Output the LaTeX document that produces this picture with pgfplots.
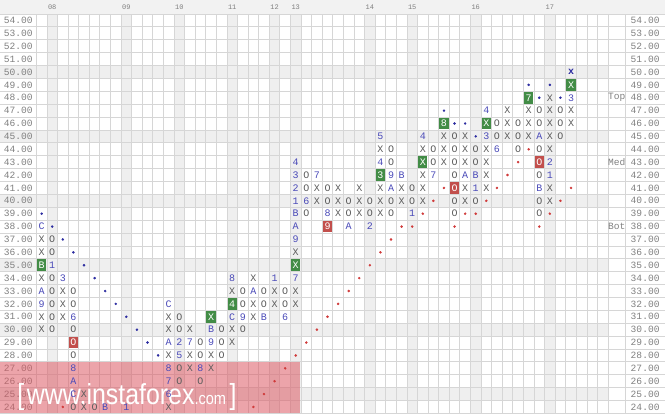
\documentclass[border=0pt]{standalone}
\usepackage{pgfplots}
\pgfplotsset{compat=1.18}
\usepackage{pgfplotstable}
\usepackage{graphicx}
\usepackage{fontspec}
\setmainfont{Liberation Sans}
\newfontfamily\monofont{Liberation Mono}
\definecolor{gridc}{HTML}{D6D6D6}
\definecolor{bandc}{HTML}{EFEFEF}
\definecolor{headc}{HTML}{F2F2F2}
\definecolor{xoc}{HTML}{5C5C5C}
\definecolor{monthc}{HTML}{4A4AB8}
\definecolor{redc}{HTML}{D03A3A}
\definecolor{bluec}{HTML}{2C2CA0}
\definecolor{greenbox}{HTML}{428C46}
\definecolor{redbox}{HTML}{C24F4C}
\definecolor{labelc}{HTML}{808080}
\definecolor{wmc}{HTML}{DC5A64}

% X columns (column index, price)
\pgfplotstableread{
x y
0 37
0 36
0 34
0 31
0 30
2 33
2 32
2 31
4 25
4 24
12 31
12 30
12 28
12 24
14 30
14 28
14 27
16 28
16 27
18 33
18 30
18 29
20 34
20 32
20 31
22 33
22 32
24 33
24 32
24 36
26 41
26 40
28 41
28 40
28 39
30 41
30 40
30 39
32 44
32 41
32 40
32 39
34 41
34 40
36 44
36 42
36 41
36 40
38 45
38 44
38 43
40 45
40 44
40 43
40 41
40 40
42 44
42 43
42 42
42 41
44 47
44 46
44 45
46 47
46 46
46 45
48 48
48 47
48 46
48 45
48 44
48 41
48 40
50 47
50 46
}\xcells

% O columns
\pgfplotstableread{
x y
1 37
1 36
1 34
1 33
1 32
1 31
1 30
3 33
3 32
3 30
3 28
3 24
5 24
13 31
13 30
13 27
13 26
15 29
15 28
15 26
17 30
17 29
17 28
19 33
19 32
19 30
21 33
21 32
23 33
23 32
25 42
25 41
25 39
27 41
27 40
29 40
29 39
31 40
31 39
33 44
33 43
33 40
33 39
35 41
35 40
37 44
37 43
39 45
39 44
39 43
39 42
39 40
39 39
41 44
41 43
41 40
43 46
43 45
45 46
45 45
45 44
47 47
47 46
47 44
47 42
47 40
47 39
49 47
49 46
49 45
}\ocells

% month markers inside the columns
\pgfplotstableread{
x y l
0 38 C
0 33 A
0 32 9
1 35 1
2 34 3
3 31 6
3 27 8
3 26 A
3 25 C
6 24 B
8 24 1
12 32 C
12 29 A
12 27 8
12 26 7
12 25 6
13 29 2
13 28 5
14 29 7
15 27 8
16 30 B
16 29 9
18 34 8
18 31 C
19 31 9
20 33 A
21 31 B
22 34 1
23 31 6
24 34 7
24 37 9
24 38 A
24 39 B
24 40 1
24 41 2
24 42 3
24 43 4
25 40 6
26 42 7
27 39 8
29 38 A
31 38 2
32 43 4
32 45 5
33 42 9
33 41 A
34 42 B
35 39 1
36 45 4
37 42 7
40 42 A
41 42 B
41 41 1
42 45 3
42 47 4
43 44 6
47 45 A
47 41 B
48 42 1
48 43 2
50 48 3
}\months

% buy signals
\pgfplotstableread{
x y l
0 35 B
16 31 X
18 32 4
24 35 X
32 42 3
36 43 X
38 46 8
42 46 X
46 48 7
50 49 X
}\buys

% sell signals
\pgfplotstableread{
x y l
3 29 O
27 38 9
39 41 O
47 43 O
}\sells

% resistance line points
\pgfplotstableread{
x y
0 39
1 38
2 37
3 36
4 35
5 34
6 33
7 32
8 31
9 30
10 29
11 28
38 47
39 46
40 46
41 45
46 49
47 48
48 49
49 48
}\resist

% support line points
\pgfplotstableread{
x y
2 24
20 24
21 25
22 26
23 27
24 28
25 29
26 30
27 31
28 32
29 33
30 34
31 35
32 36
33 37
34 38
35 38
36 39
37 40
38 41
39 38
40 39
41 39
42 40
43 41
44 42
45 43
46 44
47 38
48 39
49 40
50 41
}\support

% current box
\pgfplotstableread{
x y l
50 50 x
}\current

% year markers along the top
\pgfplotstableread{
x y l
1 55.04 08
8 55.04 09
13 55.04 10
18 55.04 11
22 55.04 12
24 55.04 13
31 55.04 14
35 55.04 15
41 55.04 16
48 55.04 17
}\years

\begin{document}
\begin{tikzpicture}
\begin{axis}[
  width=665pt, height=413pt, scale only axis,
  xmin=-3.896, xmax=58.84, ymin=23.57, ymax=55.585,
  hide axis, clip=false,
  nodes near coords align=center,
]
% header strip
\fill[headc] (axis cs:-3.896,54.5) rectangle (axis cs:58.84,55.585);
% shaded rows every five boxes
\pgfplotsinvokeforeach{25,30,35,40,45,50}{
  \fill[bandc] (axis cs:-3.896,#1-0.5) rectangle (axis cs:53.5,#1+0.5);
}
% shaded month columns
\pgfplotsinvokeforeach{1,8,13,18,22,24,31,35,41,48}{
  \fill[bandc] (axis cs:#1-0.5,23.57) rectangle (axis cs:#1+0.5,54.5);
}
% grid
\pgfplotsinvokeforeach{23,...,54}{
  \draw[gridc, line width=0.8pt] (axis cs:-3.896,#1+0.5) -- (axis cs:58.84,#1+0.5);
}
\pgfplotsinvokeforeach{0,...,54}{
  \draw[gridc, line width=0.8pt] (axis cs:#1-0.5,23.57) -- (axis cs:#1-0.5,54.5);
}
\draw[gridc, line width=0.8pt] (axis cs:55.16,23.57) -- (axis cs:55.16,54.5);
% price scale
\pgfplotsinvokeforeach{24,...,54}{
  \node[text=labelc, font=\monofont\fontsize{9.6}{10}\selectfont] at (axis cs:-2.2,#1) {#1.00};
  \node[text=labelc, font=\monofont\fontsize{9.6}{10}\selectfont] at (axis cs:57.0,#1) {#1.00};
}
\node[text=labelc, font=\monofont\fontsize{9.6}{10}\selectfont] at (axis cs:54.33,48) {Top};
\node[text=labelc, font=\monofont\fontsize{9.6}{10}\selectfont] at (axis cs:54.33,43) {Med};
\node[text=labelc, font=\monofont\fontsize{9.6}{10}\selectfont] at (axis cs:54.33,38) {Bot};

\addplot[draw=none, mark=none, point meta=explicit symbolic, nodes near coords,
  every node near coord/.append style={text=labelc, font=\monofont\fontsize{7}{7}\selectfont}]
  table[meta=l] {\years};
\addplot[draw=none, mark=none, nodes near coords={X},
  every node near coord/.append style={text=xoc, font=\monofont\fontsize{10}{10}\selectfont}]
  table {\xcells};
\addplot[draw=none, mark=none, nodes near coords={O},
  every node near coord/.append style={text=xoc, font=\monofont\fontsize{10}{10}\selectfont}]
  table {\ocells};
\addplot[draw=none, mark=none, point meta=explicit symbolic, nodes near coords,
  every node near coord/.append style={text=monthc, font=\monofont\fontsize{10}{10}\selectfont}]
  table[meta=l] {\months};
\addplot[draw=none, mark=none, point meta=explicit symbolic, nodes near coords,
  every node near coord/.append style={text=white, fill=greenbox, inner sep=0pt,
    minimum width=9.4pt, minimum height=11.6pt, font=\monofont\fontsize{10}{10}\selectfont}]
  table[meta=l] {\buys};
\addplot[draw=none, mark=none, point meta=explicit symbolic, nodes near coords,
  every node near coord/.append style={text=white, fill=redbox, inner sep=0pt,
    minimum width=9.4pt, minimum height=11.6pt, font=\monofont\fontsize{10}{10}\selectfont}]
  table[meta=l] {\sells};
\addplot[draw=none, mark=none, point meta=explicit symbolic, nodes near coords,
  every node near coord/.append style={text=bluec, font=\monofont\bfseries\fontsize{10}{10}\selectfont}]
  table[meta=l] {\current};
\addplot[only marks, mark=*, mark size=1.05pt, color=bluec] table {\resist};
\addplot[only marks, mark=*, mark size=1.05pt, color=redc] table {\support};

% watermark band
\fill[wmc, opacity=0.55] (axis cs:-3.896,23.57) rectangle (axis cs:24.4,27.52);
\node[text=white, anchor=base west, inner sep=0pt, font=\fontsize{29}{29}\selectfont]
  at (axis cs:-2.3,24.2) {\scalebox{0.86}[1]{[\hspace{3pt}www.instaforex\fontsize{17}{17}\selectfont.com\hspace{4pt}\fontsize{29}{29}\selectfont]}};
\end{axis}
\end{tikzpicture}
\end{document}
